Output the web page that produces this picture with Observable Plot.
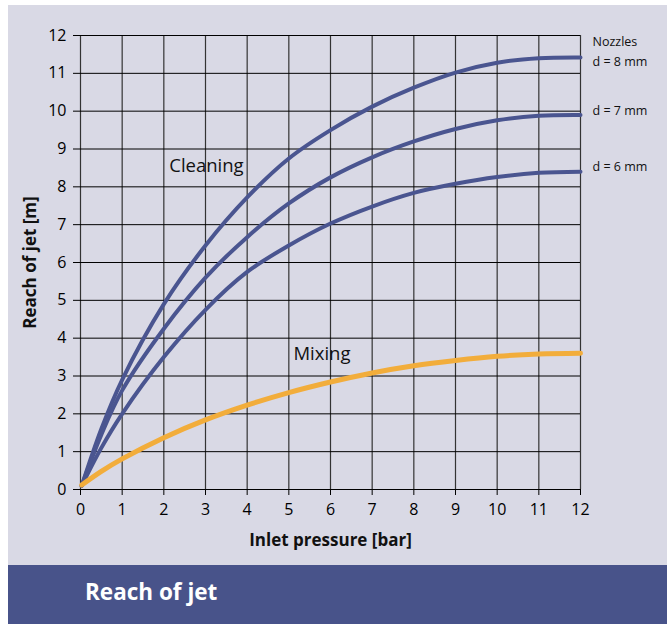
<!DOCTYPE html>
<html>
<head>
<meta charset="utf-8">
<script src="https://cdn.jsdelivr.net/npm/d3@7"></script>
<script src="https://cdn.jsdelivr.net/npm/@observablehq/plot@0.6"></script>
<style>
  html, body { margin: 0; padding: 0; background: #fff; }
  #page { position: relative; width: 667px; height: 624px; background: #fff; overflow: hidden; font-family: "Open Sans", sans-serif; }
  #panel { position: absolute; left: 8px; top: 5px; width: 659px; height: 560px; background: #d9d9e5; }
  #chart { position: absolute; left: 0; top: 0; }
  #banner { position: absolute; left: 8px; top: 565px; width: 659px; height: 59px; background: #48538a; }
  #banner span { position: absolute; left: 77px; top: 12px; color: #fff; font-weight: bold; font-size: 22.5px; line-height: 30px; }
</style>
</head>
<body>
<div id="page">
  <div id="panel"></div>
  <div id="chart"></div>
  <div id="banner"><span>Reach of jet</span></div>
</div>
<script>
// Data
const pressure = [0.03, 0.5, 1, 2, 3, 4, 5, 6, 7, 8, 9, 10, 11, 12];
const cleaning8mm = [0.1, 1.6, 2.9, 4.9, 6.45, 7.72, 8.75, 9.5, 10.12, 10.62, 11.02, 11.28, 11.4, 11.42];
const cleaning7mm = [0.1, 1.45, 2.62, 4.25, 5.6, 6.67, 7.56, 8.25, 8.78, 9.2, 9.53, 9.76, 9.88, 9.9];
const cleaning6mm = [0.1, 1.1, 2.0, 3.5, 4.75, 5.75, 6.45, 7.03, 7.48, 7.84, 8.08, 8.26, 8.37, 8.4];
const mixing = [0.12, 0.48, 0.81, 1.37, 1.84, 2.23, 2.56, 2.84, 3.08, 3.27, 3.41, 3.52, 3.58, 3.6];
const xTicks = [0, 1, 2, 3, 4, 5, 6, 7, 8, 9, 10, 11, 12];
const yTicks = [0, 1, 2, 3, 4, 5, 6, 7, 8, 9, 10, 11, 12];
const nozzleLabels = ["Nozzles", "d = 8 mm", "d = 7 mm", "d = 6 mm"];
const nozzleLabelY = [11.82, 11.3, 10.0, 8.52];
const groupLabels = ["Cleaning", "Mixing"];
const groupLabelX = [2.13, 5.11];
const groupLabelY = [8.56, 3.57];

const blue = "#4a5590";
const orange = "#f2ad3b";

const rows = vals => pressure.map((p, i) => ({p, r: vals[i]}));

const chart = Plot.plot({
  width: 667,
  height: 565,
  marginTop: 35,
  marginRight: 87,
  marginBottom: 76,
  marginLeft: 80,
  style: {background: "transparent", fontFamily: "Open Sans, sans-serif", fontSize: "16px", color: "#000", overflow: "visible"},
  x: {domain: [0, 12]},
  y: {domain: [0, 12]},
  marks: [
    Plot.gridX(xTicks, {stroke: "#333", strokeOpacity: 1, strokeWidth: 1.2}),
    Plot.gridY(yTicks, {stroke: "#000", strokeOpacity: 1, strokeWidth: 1}),
    Plot.axisX({ticks: xTicks, tickSize: 6, tickPadding: 8, tickFormat: d => String(d), label: null, fontSize: 16}),
    Plot.axisY({ticks: yTicks, tickSize: 7, tickPadding: 7, tickFormat: d => String(d), label: null, fontSize: 16}),
    Plot.line(rows(cleaning8mm), {x: "p", y: "r", stroke: blue, strokeWidth: 4, curve: "catmull-rom"}),
    Plot.line(rows(cleaning7mm), {x: "p", y: "r", stroke: blue, strokeWidth: 4, curve: "catmull-rom"}),
    Plot.line(rows(cleaning6mm), {x: "p", y: "r", stroke: blue, strokeWidth: 4, curve: "catmull-rom"}),
    Plot.line(rows(mixing), {x: "p", y: "r", stroke: orange, strokeWidth: 5, curve: "catmull-rom"}),
    Plot.text(groupLabels, {x: (d, i) => groupLabelX[i], y: (d, i) => groupLabelY[i], text: d => d, textAnchor: "start", fontSize: 18.5, fill: "#111"}),
    Plot.text(nozzleLabels, {x: 12, y: (d, i) => nozzleLabelY[i], dx: 12, text: d => d, textAnchor: "start", fontSize: 12.5, fill: "#111"}),
    Plot.text(["Inlet pressure [bar]"], {frameAnchor: "bottom", dy: 51, text: d => d, textAnchor: "middle", lineAnchor: "middle", fontSize: 17, fontWeight: "bold", fill: "#111"}),
    Plot.text(["Reach of jet [m]"], {frameAnchor: "left", dx: -50, rotate: -90, text: d => d, textAnchor: "middle", lineAnchor: "middle", fontSize: 17, fontWeight: "bold", fill: "#111"})
  ]
});
document.getElementById("chart").appendChild(chart);
</script>
</body>
</html>
